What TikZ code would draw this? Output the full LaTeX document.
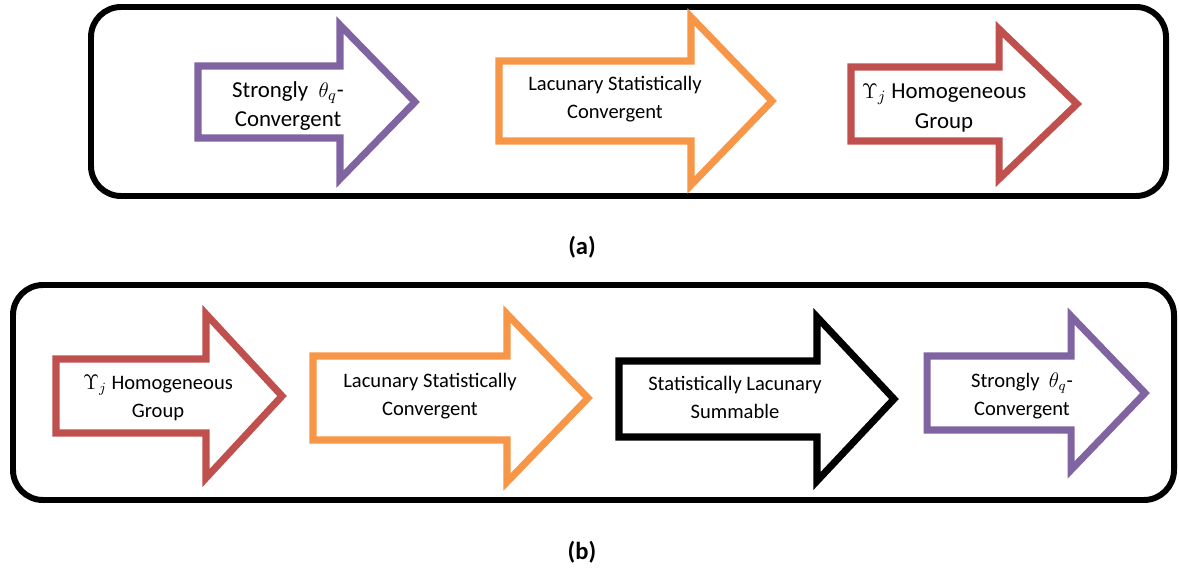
\documentclass[tikz,border=0pt]{standalone}
\usepackage{amsmath,amssymb}
\usepackage{fontspec}
\setmainfont{Carlito}
\usepackage{tikz}

\definecolor{accpurple}{HTML}{8064A2}
\definecolor{accorange}{HTML}{F79646}
\definecolor{accred}{HTML}{C0504D}

% block arrow: colour, left x, neck x, tip x, centre y, body half height, head half height
\newcommand{\blockarrow}[7]{%
  \draw[arrowline, draw=#1] (#2,#5-#6) -- (#3,#5-#6) -- (#3,#5-#7) -- (#4,#5) -- (#3,#5+#7) -- (#3,#5+#6) -- (#2,#5+#6) -- cycle;}

\begin{document}
\begin{tikzpicture}[x=0.02cm, y=-0.02cm, every node/.style={font=\fontsize{11.7}{16}\selectfont}, frame/.style={draw=black, line width=3.4pt, rounded corners=0.6cm}, arrowline/.style={line width=4pt, line join=miter, fill=white}, txt/.style={align=center, inner sep=0pt}, bigtxt/.style={txt, font=\fontsize{13}{17}\selectfont}, caption/.style={font=\fontsize{14}{17}\selectfont\bfseries}]
\useasboundingbox (0,0) rectangle (1179,570);
% (a)
\draw[frame] (91,7) rectangle (1166,196);
\blockarrow{accpurple}{198}{340}{415}{102}{36}{77}
\blockarrow{accorange}{499}{691}{772}{101}{40}{84}
\blockarrow{accred}{851}{999}{1077}{104}{37}{75}
\node[bigtxt] (strongA) at (288,106) {Strongly\ \ $\theta_q$-\\Convergent};
\node[txt] (lacunA) at (615,99) {Lacunary Statistically\\Convergent};
\node[bigtxt] (groupA) at (944,108) {$\Upsilon_j$ Homogeneous\\Group};
\node[caption] (capA) at (582,247) {(a)};
% (b)
\draw[frame] (13,285) rectangle (1174,500);
\blockarrow{accred}{56}{206}{282}{396}{37}{82}
\blockarrow{accorange}{313}{507}{588}{398}{42}{84}
\blockarrow{black}{619}{817}{894}{399}{38}{82}
\blockarrow{accpurple}{927}{1071}{1145}{393}{37}{77}
\node[txt] (groupB) at (158,398) {$\Upsilon_j$ Homogeneous\\Group};
\node[txt] (lacunB) at (430,396) {Lacunary Statistically\\Convergent};
\node[txt] (summB) at (735,397) {Statistically Lacunary\\Summable};
\node[txt] (strongB) at (1022,396) {Strongly\ \ $\theta_q$-\\Convergent};
\node[caption] (capB) at (582,552) {(b)};
\end{tikzpicture}
\end{document}
